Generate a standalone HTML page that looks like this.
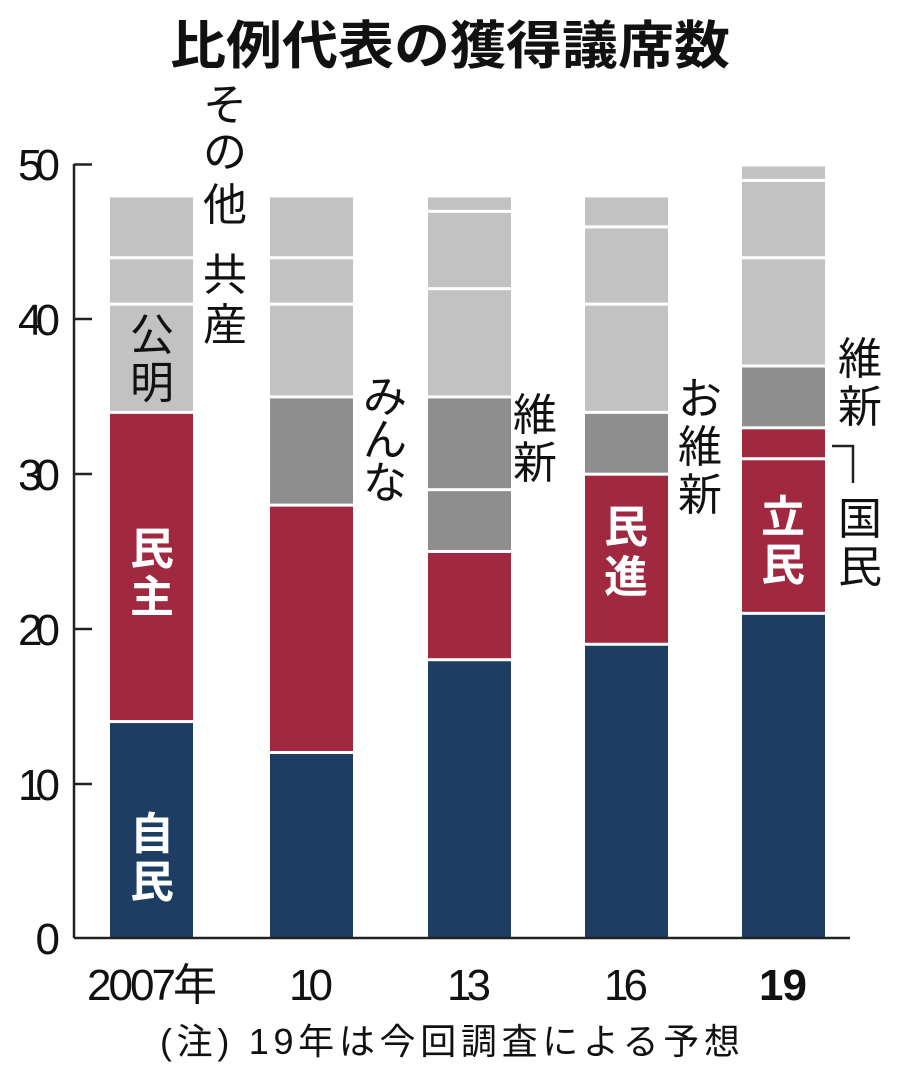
<!DOCTYPE html>
<html><head><meta charset="utf-8"><style>
html,body{margin:0;padding:0;background:#fff;}
svg{display:block;font-family:"Liberation Sans","Noto Sans CJK JP",sans-serif;}
</style></head><body>
<svg width="900" height="1073" viewBox="0 0 900 1073" xmlns="http://www.w3.org/2000/svg">
<text x="450" y="64" text-anchor="middle" font-size="52" font-weight="bold" fill="#111" textLength="560" lengthAdjust="spacingAndGlyphs">比例代表の獲得議席数</text>
<g id="bars"></g>
<g stroke="#222" stroke-width="2.5" fill="none">
<line x1="74" y1="164" x2="74" y2="938"/>
<line x1="74" y1="938" x2="850" y2="938"/>
<line x1="74" y1="164.5" x2="92" y2="164.5"/>
<line x1="74" y1="319" x2="92" y2="319"/>
<line x1="74" y1="474" x2="92" y2="474"/>
<line x1="74" y1="629" x2="92" y2="629"/>
<line x1="74" y1="784" x2="92" y2="784"/>
<polyline points="832,446 853,446 853,483"/>
</g>
<g font-size="44" fill="#111" text-anchor="end" lengthAdjust="spacingAndGlyphs">
<text x="60" y="180" textLength="42">50</text><text x="60" y="335" textLength="42">40</text><text x="60" y="490" textLength="42">30</text>
<text x="60" y="645" textLength="42">20</text><text x="60" y="800" textLength="42">10</text><text x="60" y="954" textLength="21">0</text>
</g>
<g font-size="44" fill="#111" text-anchor="middle" lengthAdjust="spacingAndGlyphs">
<text x="152" y="1000" textLength="130">2007年</text><text x="311" y="1000" textLength="44">10</text><text x="469" y="1000" textLength="44">13</text>
<text x="626" y="1000" textLength="44">16</text><text x="783" y="1000" font-weight="bold" textLength="48">19</text>
<text x="450" y="1054" font-size="36" textLength="580">(注) 19年は今回調査による予想</text>
</g>
<g font-size="44" fill="#111" text-anchor="middle">
<text x="225" y="120">そ</text><text x="225" y="167">の</text><text x="225" y="220">他</text>
<text x="225" y="290">共</text><text x="225" y="340">産</text>
<text x="152" y="350">公</text><text x="152" y="398">明</text>
<text x="385" y="412">み</text><text x="385" y="455">ん</text><text x="385" y="498">な</text>
<text x="535" y="430">維</text><text x="535" y="478">新</text>
<text x="700" y="414">お</text><text x="700" y="462">維</text><text x="700" y="510">新</text>
<text x="860" y="374">維</text><text x="860" y="422">新</text>
<text x="860" y="534">国</text><text x="860" y="582">民</text>
</g>
<g font-size="44" font-weight="bold" fill="#fff" text-anchor="middle">
<text x="152" y="564">民</text><text x="152" y="612">主</text>
<text x="152" y="849">自</text><text x="152" y="897">民</text>
<text x="626" y="542">民</text><text x="626" y="592">進</text>
<text x="783" y="532">立</text><text x="783" y="580">民</text>
</g>
</svg>
<script>
var N="#1d3d63",R="#a0283f",D="#8e8e8e",L="#c2c2c2";
var data=[[110,[[14,N],[20,R],[7,L],[3,L],[4,L]]],
[270,[[12,N],[16,R],[7,D],[6,L],[3,L],[4,L]]],
[428,[[18,N],[7,R],[4,D],[6,D],[7,L],[5,L],[1,L]]],
[585,[[19,N],[11,R],[4,D],[7,L],[5,L],[2,L]]],
[742,[[21,N],[10,R],[2,R],[4,D],[7,L],[5,L],[1,L]]]];
var s="",k=15.46;
data.forEach(function(b){var v=0;b[1].forEach(function(g){var y0=938-v*k,y1=938-(v+g[0])*k;
s+='<rect x="'+b[0]+'" y="'+(y1+1.5)+'" width="83" height="'+(y0-y1-(v?3:1.5))+'" fill="'+g[1]+'"/>';v+=g[0];});});
document.getElementById("bars").innerHTML=s;
</script>
</body></html>
